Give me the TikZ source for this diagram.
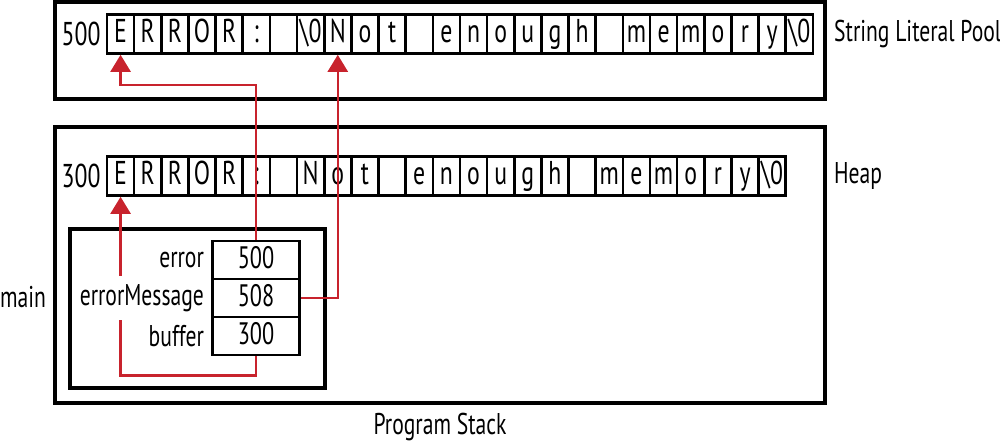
\documentclass[tikz,border=0pt]{standalone}
\usepackage{fontspec}
\setmainfont[FakeStretch=0.72]{PT Sans}
\usetikzlibrary{positioning, arrows.meta}
\definecolor{ptrred}{RGB}{200,35,45}
\newcommand{\nulch}{\textbackslash 0}

\begin{document}
\begin{tikzpicture}[x=1pt, y=-1pt,
  cell/.style={draw, line width=2.6pt, minimum width=27.15pt, minimum height=39pt,
    inner sep=0pt, text height=24pt, text depth=7pt, font=\fontsize{33}{39}\selectfont},
  slot/.style={draw, line width=2.8pt, minimum width=87pt, minimum height=38pt,
    inner sep=0pt, text height=22pt, text depth=6pt, font=\fontsize{31}{36}\selectfont},
  lbl/.style={font=\fontsize{30}{35}\selectfont, inner sep=2pt},
  ptr/.style={ptrred, line width=2.5pt, -{Triangle[length=17pt, width=20pt]}},
  frame/.style={line width=3.4pt}]
  \useasboundingbox (0,0) rectangle (1000,444);

  % Memory regions
  \draw[frame] (55,2) rectangle (825,99);
  \draw[frame] (55,127) rectangle (825,403);
  \draw[frame] (70,229) rectangle (325,388);

  % String literal pool
  \foreach \ch [count=\i from 0] in {E,R,R,O,R,:,{},\nulch,N,o,t,{},e,n,o,u,g,h,{},m,e,m,o,r,y,\nulch}
    \node[cell] (pool-\i) at ({107+27.15*(\i+0.5)},34) {\ch};
  \node[lbl, font=\fontsize{33}{39}\selectfont, left=3pt of pool-0] (pool-addr) {500};

  % Heap buffer
  \foreach \ch [count=\i from 0] in {E,R,R,O,R,:,{},N,o,t,{},e,n,o,u,g,h,{},m,e,m,o,r,y,\nulch}
    \node[cell] (heap-\i) at ({107+27.15*(\i+0.5)},176) {\ch};
  \node[lbl, font=\fontsize{33}{39}\selectfont, left=3pt of heap-0] (heap-addr) {300};

  % Variables of main
  \node[slot] (var-error) at (256,260) {500};
  \node[slot] (var-msg) at (256,298) {508};
  \node[slot] (var-buf) at (256,336) {300};

  % Pointers
  \coordinate (bend-error) at (var-error.north |- 0,85);
  \draw[ptr] (var-error.north) -- (bend-error) -| (pool-0.south);
  \draw[ptr] (var-msg.east) -| (pool-8.south);
  \draw[ptr] (var-buf.south) -- ++(0,19) -| (heap-0.south);

  % Labels
  \node[lbl, left=5pt of var-error] (name-error) {error};
  \node[lbl, fill=white, inner ysep=8pt, left=5pt of var-msg] (name-msg) {errorMessage};
  \node[lbl, left=5pt of var-buf] (name-buf) {buffer};
  \node[lbl, anchor=west] (pool-name) at (832,34) {String Literal Pool};
  \node[lbl, anchor=west] (heap-name) at (832,176) {Heap};
  \node[lbl] (main-name) at (23,297) {main};
  \node[lbl] (stack-name) at (440,427) {Program Stack};
\end{tikzpicture}
\end{document}
